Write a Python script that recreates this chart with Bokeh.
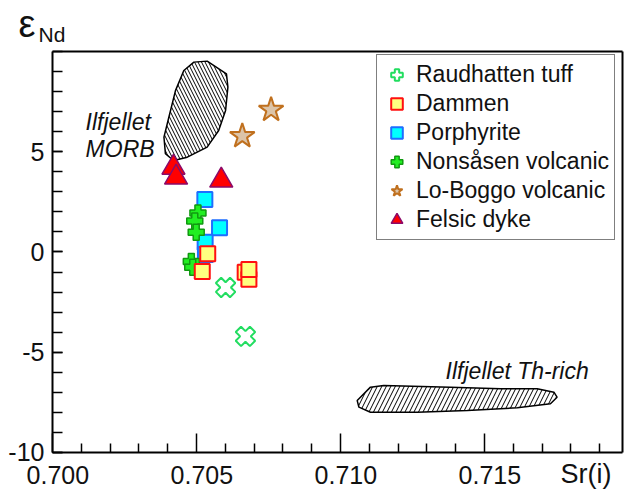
import numpy as np
from bokeh.plotting import figure
from bokeh.models import (Range1d, FixedTicker, NumeralTickFormatter, Legend,
                          LegendItem, Label, LinearAxis)
from bokeh.embed import file_html
from bokeh.resources import INLINE

# ---------------- data (Sr(i), eps Nd) ----------------
raud_sr = [0.70601, 0.70670]
raud_nd = [-1.77, -4.21]

dam_sr = [0.70539, 0.70520, 0.70669, 0.70682, 0.70682]
dam_nd = [-0.09, -0.97, -1.01, -1.36, -0.87]

por_sr = [0.70529, 0.70580, 0.70530, 0.70531]
por_nd = [2.62, 1.21, 0.49, -0.12]

non_sr = [0.70505, 0.70494, 0.70499, 0.70482, 0.70487]
non_nd = [1.95, 1.54, 0.99, -0.47, -0.76]

lob_sr = [0.70759, 0.70659]
lob_nd = [7.09, 5.78]

fel_sr = [0.70420, 0.70429, 0.70586]
fel_nd = [4.21, 3.72, 3.57]

# field outlines
morb_sr = [0.70537, 0.70604, 0.70609, 0.70601, 0.70577, 0.70537, 0.70468,
           0.70421, 0.70392, 0.70387, 0.70404, 0.70427, 0.70456, 0.70491]
morb_nd = [9.52, 8.89, 8.22, 7.06, 6.06, 5.23, 4.73,
           4.56, 4.90, 5.73, 6.72, 8.05, 9.05, 9.47]

thr_sr = [0.71058, 0.71104, 0.71150, 0.71382, 0.71556, 0.71683, 0.71741,
          0.71752, 0.71729, 0.71614, 0.71440, 0.71266, 0.71104, 0.71064]
thr_nd = [-7.41, -6.74, -6.66, -6.74, -6.82, -6.82, -6.99,
          -7.24, -7.57, -7.77, -7.91, -7.99, -7.99, -7.74]

x_major = [0.700, 0.705, 0.710, 0.715]
x_minor = [0.701, 0.702, 0.703, 0.704, 0.706, 0.707, 0.708, 0.709,
           0.711, 0.712, 0.713, 0.714, 0.716, 0.717, 0.718, 0.719]
y_major = [-10, -5, 0, 5]
y_minor = list(range(-10, 11))

X0, X1 = 0.700, 0.7198      # axis box in data units
Y0, Y1 = -10, 10

FONT = "Liberation Sans"

XS, XE = 0.6981944, 0.720   # visible data window of the whole canvas
YS, YE = -11.8953, 12.5436
LAB_SHIFT = 0.0001875       # tick labels sit a little right of their ticks

# the frame covers the whole canvas; the axis box is drawn with fixed-location axes
p = figure(width=628, height=490, output_backend="svg", toolbar_location=None,
           x_range=Range1d(XS, XE), y_range=Range1d(YS, YE),
           x_axis_location=None, y_axis_location=None,
           min_border=0)
p.extra_x_ranges = {"lab": Range1d(XS - LAB_SHIFT, XE - LAB_SHIFT)}
p.grid.visible = False
p.outline_line_color = None
p.background_fill_color = "white"
p.border_fill_color = "white"

# x axis: ticks
xa = LinearAxis(fixed_location=Y0, bounds=(X0, X1),
                ticker=FixedTicker(ticks=x_major, minor_ticks=x_minor),
                major_label_overrides={t: "" for t in x_major})
xa.major_tick_in = 19
xa.major_tick_out = 0
xa.minor_tick_in = 9
xa.minor_tick_out = 0
xa.axis_line_width = 2
xa.major_tick_line_width = 1.5
xa.minor_tick_line_width = 1.5
p.add_layout(xa, "below")

# x axis: labels
xl = LinearAxis(fixed_location=Y0, x_range_name="lab",
                ticker=FixedTicker(ticks=x_major, minor_ticks=[]),
                formatter=NumeralTickFormatter(format="0.000"),
                axis_line_color=None, major_tick_line_color=None,
                minor_tick_line_color=None)
xl.major_label_text_font = FONT
xl.major_label_text_font_size = "25px"
xl.major_label_text_color = "#111111"
xl.major_label_standoff = 8
p.add_layout(xl, "below")

ya = LinearAxis(fixed_location=X0, bounds=(Y0, Y1),
                ticker=FixedTicker(ticks=y_major, minor_ticks=y_minor),
                formatter=NumeralTickFormatter(format="0"))
ya.major_tick_in = 10
ya.major_tick_out = 0
ya.minor_tick_in = 10
ya.minor_tick_out = 0
ya.axis_line_width = 2
ya.major_tick_line_width = 1.5
ya.minor_tick_line_width = 1.5
ya.major_label_text_font = FONT
ya.major_label_text_font_size = "25px"
ya.major_label_text_color = "#111111"
ya.major_label_standoff = 8
p.add_layout(ya, "left")

top_ax = LinearAxis(fixed_location=Y1, bounds=(X0, X1),
                    ticker=FixedTicker(ticks=[], minor_ticks=[]),
                    axis_line_width=2, major_tick_line_color=None,
                    minor_tick_line_color=None)
p.add_layout(top_ax, "above")
right_ax = LinearAxis(fixed_location=X1, bounds=(Y0, Y1),
                      ticker=FixedTicker(ticks=[], minor_ticks=[]),
                      axis_line_width=2, major_tick_line_color=None,
                      minor_tick_line_color=None)
p.add_layout(right_ax, "right")

# fields
p.patch(morb_sr, morb_nd, fill_color="white", line_color="black", line_width=1.5,
        hatch_pattern="\\", hatch_color="black", hatch_scale=7, hatch_weight=1)
p.patch(thr_sr, thr_nd, fill_color="white", line_color="black", line_width=1.5,
        hatch_pattern="/", hatch_color="black", hatch_scale=9, hatch_weight=1)

# points
r_por = p.scatter(por_sr, por_nd, marker="square", size=15, fill_color="#00ffff",
                  line_color="#1e6eff", line_width=2)
r_non = p.scatter(non_sr, non_nd, marker="plus", size=16, fill_color="#22ee22",
                  line_color="#119911", line_width=1.5)
r_dam = p.scatter(dam_sr, dam_nd, marker="square", size=15, fill_color="#ffff80",
                  line_color="#ff1010", line_width=2)
r_raud = p.scatter(raud_sr, raud_nd, marker="plus", size=20, angle=np.pi / 4,
                   fill_color="white", line_color="#22dd60", line_width=2)
r_lob = p.scatter(lob_sr, lob_nd, marker="star", size=26, fill_color="#dcc4a8",
                  line_color="#c0701e", line_width=2)
r_fel = p.scatter(fel_sr, fel_nd, marker="triangle", size=23, fill_color="#ff0000",
                  line_color="#8b0a6a", line_width=1.5)

legend = Legend(items=[
    LegendItem(label="Raudhatten tuff", renderers=[r_raud]),
    LegendItem(label="Dammen", renderers=[r_dam]),
    LegendItem(label="Porphyrite", renderers=[r_por]),
    LegendItem(label="Nonsåsen volcanic", renderers=[r_non]),
    LegendItem(label="Lo-Boggo volcanic", renderers=[r_lob]),
    LegendItem(label="Felsic dyke", renderers=[r_fel]),
], location=(376, 250), glyph_width=29, glyph_height=29, label_height=29,
    spacing=0, padding=5, label_standoff=5, label_text_font=FONT,
    label_text_font_size="23px", label_text_color="#111111",
    border_line_color="black", border_line_width=1,
    background_fill_color="white", background_fill_alpha=1.0)
p.add_layout(legend)

# text annotations
lab_style = dict(text_font=FONT, text_font_size="23px", text_font_style="italic",
                 text_color="#111111", text_baseline="middle")
p.add_layout(Label(x=0.70115, y=6.46, text="Ilfjellet", **lab_style))
p.add_layout(Label(x=0.70115, y=5.14, text="MORB", **lab_style))
p.add_layout(Label(x=0.71365, y=-5.96, text="Ilfjellet Th-rich", **lab_style))

p.add_layout(Label(x=X0, y=Y1, x_offset=-34, y_offset=27, text="ε",
                   text_font=FONT, text_font_size="38px", text_color="#111111",
                   text_baseline="alphabetic"))
p.add_layout(Label(x=X0, y=Y1, x_offset=-14, y_offset=17, text="Nd",
                   text_font=FONT, text_font_size="21px", text_color="#111111",
                   text_baseline="alphabetic"))
p.add_layout(Label(x=0.71764, y=Y0, y_offset=-22, text="Sr(i)",
                   text_font=FONT, text_font_size="27px", text_color="#111111",
                   text_baseline="alphabetic"))

open("out.html", "w").write(file_html(p, INLINE))
